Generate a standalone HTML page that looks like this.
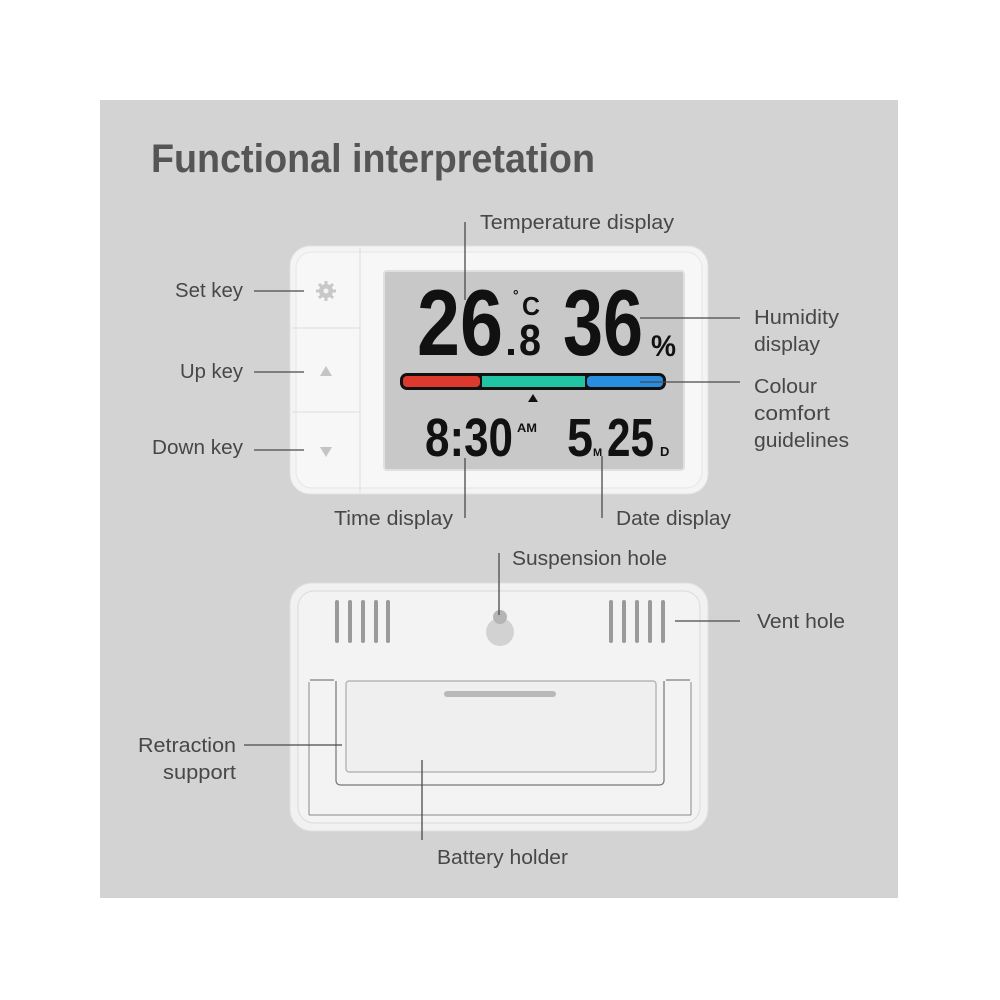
<!DOCTYPE html>
<html><head><meta charset="utf-8"><style>
html,body{margin:0;padding:0;background:#fff;}
svg{display:block;}
text{font-family:"Liberation Sans",sans-serif;fill:#474747;}
.l{font-size:20px;}
.ln{stroke:#4a4a4a;stroke-width:1.3;fill:none;}
.d{font-family:"Liberation Sans",sans-serif;font-weight:bold;fill:#111;}
</style></head><body>
<svg width="1000" height="1000" viewBox="0 0 1000 1000">
<rect x="100" y="100" width="798" height="798" fill="#d3d3d3"/>
<text x="151" y="172" font-size="40" font-weight="bold" style="fill:#555" textLength="444" lengthAdjust="spacingAndGlyphs">Functional interpretation</text>

<!-- front device -->
<rect x="290" y="246" width="418" height="248" rx="20" fill="#f4f4f4" stroke="#e2e2e2"/>
<rect x="296" y="252" width="406" height="236" rx="16" fill="#f7f7f7" stroke="#e6e6e6"/>
<line x1="360" y1="248" x2="360" y2="492" stroke="#dcdcdc"/>
<line x1="292" y1="328" x2="360" y2="328" stroke="#dcdcdc"/>
<line x1="292" y1="412" x2="360" y2="412" stroke="#dcdcdc"/>
<g stroke="#c8c8c8" stroke-width="3"><line x1="326" y1="281" x2="326" y2="301"/><line x1="316" y1="291" x2="336" y2="291"/><line x1="319" y1="284" x2="333" y2="298"/><line x1="333" y1="284" x2="319" y2="298"/></g>
<circle cx="326" cy="291" r="7" fill="#c8c8c8"/>
<circle cx="326" cy="291" r="2.5" fill="#f4f4f4"/>
<polygon points="320,376 332,376 326,366" fill="#c4c4c4"/>
<polygon points="320,447 332,447 326,457" fill="#c4c4c4"/>
<rect x="384" y="271" width="300" height="199" rx="3" fill="#c8c8c8" stroke="#e0e0e0" stroke-width="2"/>
<text class="d" x="417" y="355" font-size="94" textLength="86" lengthAdjust="spacingAndGlyphs">26</text>
<rect x="508" y="349" width="6" height="6" fill="#111"/>
<text class="d" x="513" y="300" font-size="14">°</text>
<text class="d" x="522" y="315" font-size="26" textLength="18" lengthAdjust="spacingAndGlyphs">C</text>
<text class="d" x="519" y="355" font-size="44" textLength="22" lengthAdjust="spacingAndGlyphs">8</text>
<text class="d" x="563" y="355" font-size="94" textLength="80" lengthAdjust="spacingAndGlyphs">36</text>
<text class="d" x="651" y="356" font-size="30" textLength="25" lengthAdjust="spacingAndGlyphs">%</text>
<rect x="400" y="373" width="266" height="17" rx="7" fill="#111"/>
<rect x="403" y="376" width="77" height="11" rx="4" fill="#dd3a2e"/>
<rect x="482" y="376" width="103" height="11" fill="#21c5a3"/>
<rect x="587" y="376" width="76" height="11" rx="4" fill="#2a8ee0"/>
<polygon points="528,402 538,402 533,394" fill="#111"/>
<text class="d" x="425" y="456" font-size="54" textLength="88" lengthAdjust="spacingAndGlyphs">8:30</text>
<text class="d" x="517" y="432" font-size="12" textLength="20" lengthAdjust="spacingAndGlyphs">AM</text>
<text class="d" x="567" y="456" font-size="54" textLength="26" lengthAdjust="spacingAndGlyphs">5</text>
<text class="d" x="593" y="456" font-size="11">M</text>
<text class="d" x="607" y="456" font-size="54" textLength="47" lengthAdjust="spacingAndGlyphs">25</text>
<text class="d" x="660" y="456" font-size="13">D</text>

<!-- front labels -->
<text class="l" x="480" y="229" textLength="194" lengthAdjust="spacingAndGlyphs">Temperature display</text>
<line class="ln" x1="465" y1="222" x2="465" y2="300"/>
<text class="l" x="175" y="297" textLength="68" lengthAdjust="spacingAndGlyphs">Set key</text><line class="ln" x1="254" y1="291" x2="304" y2="291"/>
<text class="l" x="180" y="378" textLength="63" lengthAdjust="spacingAndGlyphs">Up key</text><line class="ln" x1="254" y1="372" x2="304" y2="372"/>
<text class="l" x="152" y="454" textLength="91" lengthAdjust="spacingAndGlyphs">Down key</text><line class="ln" x1="254" y1="450" x2="304" y2="450"/>
<text class="l" x="754" y="324" textLength="85" lengthAdjust="spacingAndGlyphs">Humidity</text><text class="l" x="754" y="351" textLength="66" lengthAdjust="spacingAndGlyphs">display</text>
<line class="ln" x1="640" y1="318" x2="740" y2="318"/>
<text class="l" x="754" y="393" textLength="63" lengthAdjust="spacingAndGlyphs">Colour</text><text class="l" x="754" y="420" textLength="76" lengthAdjust="spacingAndGlyphs">comfort</text><text class="l" x="754" y="447" textLength="95" lengthAdjust="spacingAndGlyphs">guidelines</text>
<line class="ln" x1="640" y1="382" x2="740" y2="382"/>
<text class="l" x="334" y="525" textLength="119" lengthAdjust="spacingAndGlyphs">Time display</text><line class="ln" x1="465" y1="458" x2="465" y2="518"/>
<text class="l" x="616" y="525" textLength="115" lengthAdjust="spacingAndGlyphs">Date display</text><line class="ln" x1="602" y1="456" x2="602" y2="518"/>

<!-- back device -->
<rect x="290" y="583" width="418" height="248" rx="22" fill="#f1f1f1" stroke="#e0e0e0"/>
<rect x="298" y="591" width="402" height="232" rx="16" fill="#f3f3f3" stroke="#dadada"/>
<g fill="#9a9a9a">
<rect x="335" y="600" width="4" height="43" rx="2"/><rect x="348" y="600" width="4" height="43" rx="2"/><rect x="361" y="600" width="4" height="43" rx="2"/><rect x="374" y="600" width="4" height="43" rx="2"/><rect x="386" y="600" width="4" height="43" rx="2"/>
<rect x="609" y="600" width="4" height="43" rx="2"/><rect x="622" y="600" width="4" height="43" rx="2"/><rect x="635" y="600" width="4" height="43" rx="2"/><rect x="648" y="600" width="4" height="43" rx="2"/><rect x="661" y="600" width="4" height="43" rx="2"/>
</g>
<circle cx="500" cy="632" r="14" fill="#d2d2d2"/><circle cx="500" cy="617" r="7" fill="#b5b5b5"/>
<path d="M336 681 V780 Q336 785 341 785 H659 Q664 785 664 780 V681" fill="none" stroke="#777" stroke-width="1.2"/>
<path d="M310 680 H334 M666 680 H690" stroke="#aaa" stroke-width="2"/>
<rect x="346" y="681" width="310" height="91" rx="3" fill="#efefef" stroke="#aaa" stroke-width="1.2"/>
<rect x="444" y="691" width="112" height="6" rx="3" fill="#b8b8b8"/>
<line x1="309" y1="682" x2="309" y2="815" stroke="#888"/><line x1="691" y1="682" x2="691" y2="815" stroke="#888"/>
<line x1="309" y1="815" x2="691" y2="815" stroke="#888"/>

<text class="l" x="512" y="565" textLength="155" lengthAdjust="spacingAndGlyphs">Suspension hole</text><line class="ln" x1="499" y1="553" x2="499" y2="615"/>
<text class="l" x="757" y="628" textLength="88" lengthAdjust="spacingAndGlyphs">Vent hole</text><line class="ln" x1="675" y1="621" x2="740" y2="621"/>
<text class="l" x="138" y="752" textLength="98" lengthAdjust="spacingAndGlyphs">Retraction</text><text class="l" x="163" y="779" textLength="73" lengthAdjust="spacingAndGlyphs">support</text>
<line class="ln" x1="244" y1="745" x2="342" y2="745"/>
<text class="l" x="437" y="864" textLength="131" lengthAdjust="spacingAndGlyphs">Battery holder</text><line class="ln" x1="422" y1="760" x2="422" y2="840"/>
</svg>
</body></html>
